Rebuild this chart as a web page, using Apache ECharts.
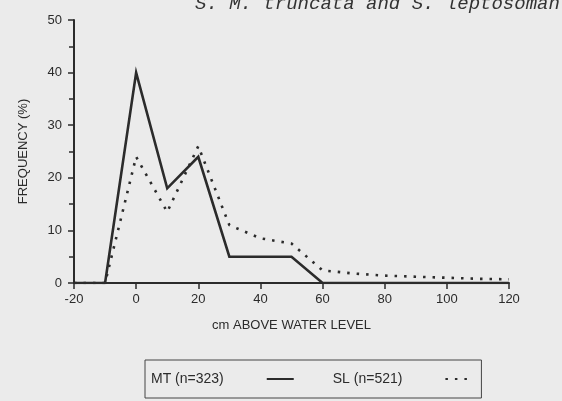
<!DOCTYPE html>
<html>
<head>
<meta charset="utf-8">
<script src="https://cdn.jsdelivr.net/npm/echarts@6/dist/echarts.min.js"></script>
<style>
html,body{margin:0;padding:0;background:#ebebeb;}
#chart{width:562px;height:401px;}
</style>
</head>
<body>
<div id="chart"></div>
<script>
var heights = [-20,-10,0,10,20,30,40,50,60,70,80,90,100,110,120];
var mtValues = [0,0,40,18,24,5,5,5,0,0,0,0,0,0,0];
var slValues = [0,0,24,13.5,26,11,8.5,7.5,2.4,1.8,1.4,1.2,1.0,0.8,0.7];
var xTicks = [-20,0,20,40,60,80,100,120];
var yTicks = [0,10,20,30,40,50];
var seriesNames = ['MT (n=323)','SL (n=521)'];
var titleText = 'S. M. truncata and S. leptosomant';

function pairs(xs, ys){ return xs.map(function(x,i){return [x, ys[i]];}); }

var chart = echarts.init(document.getElementById('chart'), null, {renderer:'canvas'});
var font = 'Liberation Sans, Arial, sans-serif';
var ink = '#2b2b2b';
chart.setOption({
  backgroundColor: '#ebebeb',
  animation: false,
  title: {
    text: titleText,
    left: 190, top: -11,
    textStyle: {fontFamily: 'Liberation Mono, monospace', fontStyle: 'italic', fontWeight: 'normal', fontSize: 19, color: '#333'}
  },
  grid: {left: 74, right: 53, top: 20, bottom: 118},
  xAxis: {
    type: 'value', min: -20, max: 120, interval: 20,
    name: 'cm ABOVE WATER LEVEL', nameLocation: 'middle', nameGap: 36,
    nameTextStyle: {fontFamily: font, fontSize: 13, color: ink},
    axisLine: {lineStyle: {color: ink, width: 2}},
    axisTick: {show: true, length: 6, lineStyle: {color: ink, width: 1.5}},
    axisLabel: {fontFamily: font, fontSize: 13, color: ink, margin: 10,
      formatter: function(v){ return xTicks.indexOf(v) >= 0 ? String(v) : ''; }},
    splitLine: {show: false}
  },
  yAxis: {
    type: 'value', min: 0, max: 50, interval: 10,
    name: 'FREQUENCY (%)', nameLocation: 'middle', nameGap: 44, nameRotate: 90,
    nameTextStyle: {fontFamily: font, fontSize: 13, color: ink},
    axisLine: {show: true, onZero: false, lineStyle: {color: ink, width: 2}},
    axisTick: {show: true, length: 6, lineStyle: {color: ink, width: 1.5}},
    minorTick: {show: true, splitNumber: 2, length: 5, lineStyle: {color: ink, width: 1.5}},
    axisLabel: {fontFamily: font, fontSize: 13, color: ink, margin: 12,
      formatter: function(v){ return yTicks.indexOf(v) >= 0 ? String(v) : ''; }},
    splitLine: {show: false}
  },
  legend: {
    left: 145, top: 360,
    align: 'right',
    orient: 'horizontal',
    itemWidth: 27, itemHeight: 10, itemGap: 38,
    padding: [12, 8, 12, 6],
    borderColor: '#444', borderWidth: 1,
    itemStyle: {opacity: 0},
    textStyle: {fontFamily: font, fontSize: 14, color: ink, padding: [0, 38, 0, 0]},
    data: seriesNames
  },
  series: [
    {
      name: seriesNames[0], type: 'line', data: pairs(heights, mtValues),
      symbol: 'none', showSymbol: false, z: 3,
      lineStyle: {color: ink, width: 2.6, join: 'miter'},
      itemStyle: {color: ink}
    },
    {
      name: seriesNames[1], type: 'line', data: pairs(heights, slValues),
      symbol: 'none', showSymbol: false, z: 2,
      lineStyle: {color: ink, width: 2.6, type: [2.5, 7]},
      itemStyle: {color: ink}
    }
  ]
});
</script>
</body>
</html>
